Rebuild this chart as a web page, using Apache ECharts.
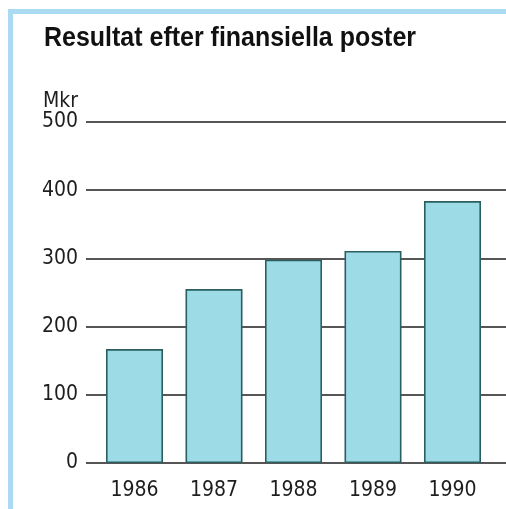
<!DOCTYPE html>
<html>
<head>
<meta charset="utf-8">
<script src="https://cdn.jsdelivr.net/npm/echarts@6/dist/echarts.min.js"></script>
<style>
  html, body { margin: 0; padding: 0; background: #ffffff; }
  #chart { width: 506px; height: 509px; }
</style>
</head>
<body>
<div id="chart"></div>
<script>
// Resultat efter finansiella poster, Mkr
const years = ['1986', '1987', '1988', '1989', '1990'];
const result = [167, 255, 298, 311, 384];
const yTicks = { min: 0, max: 500, interval: 100 };
const titleText = 'Resultat efter finansiella poster';

const FONT = '"DejaVu Sans Condensed", "Liberation Sans", sans-serif';
const TITLE_FONT = 'bold 28px "Liberation Sans", Arial, sans-serif';
const INK = '#1e1e1e';

// squeeze the heading horizontally to a condensed face of the set width
const measure = document.createElement('canvas').getContext('2d');
measure.font = TITLE_FONT;
const titleScale = 372 / measure.measureText(titleText).width;

const chart = echarts.init(document.getElementById('chart'), null, { renderer: 'canvas' });

chart.setOption({
  backgroundColor: '#ffffff',
  animation: false,
  graphic: [
    // light blue frame strips along the left and top edges
    { type: 'rect', shape: { x: 8, y: 9, width: 5, height: 500 }, style: { fill: '#abdaf3' } },
    { type: 'rect', shape: { x: 8, y: 9, width: 498, height: 5 }, style: { fill: '#abdaf3' } },
    {
      type: 'text', x: 44, y: 24, scaleX: titleScale, originX: 0,
      style: { text: titleText, font: TITLE_FONT, fill: '#111', verticalAlign: 'top' }
    }
  ],
  grid: [
    // grid holding the value scale and its full-width rules
    { left: 86, right: 0, top: 122, bottom: 46 },
    // grid holding the year bars
    { left: 94.75, width: 397.5, top: 122, bottom: 46 }
  ],
  xAxis: [
    { type: 'value', gridIndex: 0, show: false, min: 0, max: 1 },
    {
      type: 'category', gridIndex: 1, data: years,
      axisLine: { show: false }, axisTick: { show: false },
      axisLabel: { fontFamily: FONT, fontSize: 21, color: INK, margin: 17 }
    }
  ],
  yAxis: [
    {
      type: 'value', gridIndex: 0,
      min: yTicks.min, max: yTicks.max, interval: yTicks.interval,
      name: 'Mkr', nameLocation: 'end', nameGap: 8,
      nameTextStyle: { fontFamily: FONT, fontSize: 21, color: INK, align: 'right', verticalAlign: 'bottom', padding: [0, 8, 0, 0] },
      axisLine: { show: false }, axisTick: { show: false },
      axisLabel: { fontFamily: FONT, fontSize: 21, color: INK, margin: 8 },
      splitLine: { show: true, lineStyle: { color: INK, width: 1.5 } }
    },
    {
      type: 'value', gridIndex: 1, show: false,
      min: yTicks.min, max: yTicks.max, interval: yTicks.interval
    }
  ],
  series: [
    {
      type: 'bar', xAxisIndex: 1, yAxisIndex: 1,
      data: result, barWidth: 57,
      itemStyle: { color: '#9ddbe7', borderColor: '#2a5f60', borderWidth: 1.6 }
    }
  ]
});
</script>
</body>
</html>
